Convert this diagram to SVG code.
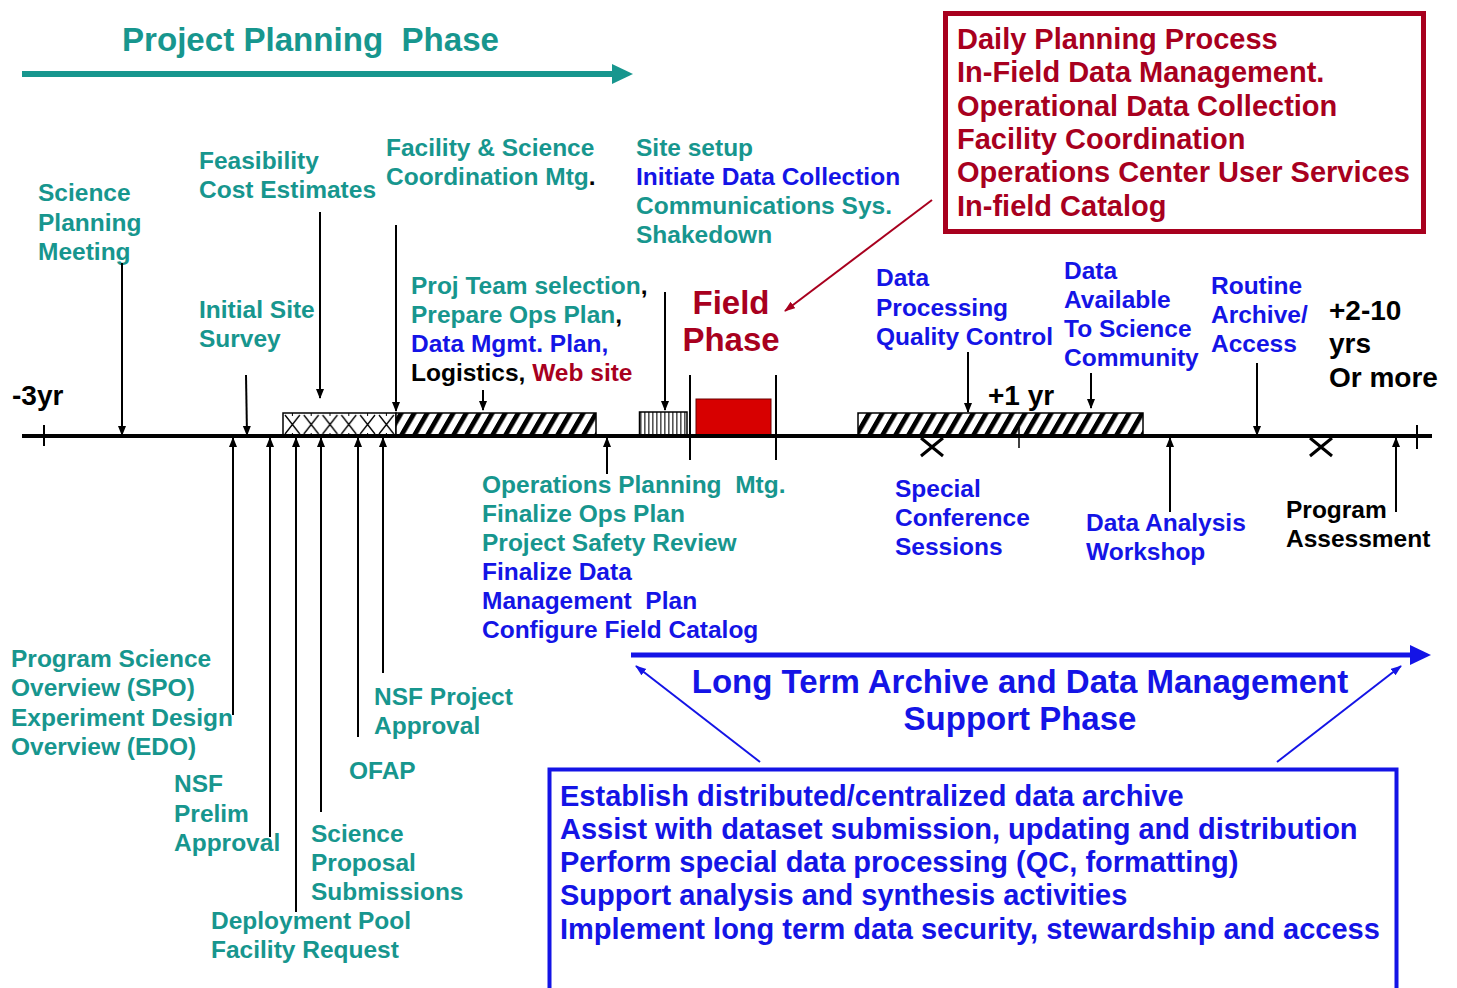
<svg xmlns="http://www.w3.org/2000/svg" width="1457" height="988" viewBox="0 0 1457 988">
  <style>
    text { font-family: "Liberation Sans", Arial, sans-serif; font-weight: bold; }
    .lbl { font-size: 24.5px; }
    .big { font-size: 29px; }
    .huge { font-size: 33px; }
    .teal { fill: #17968e; }
    .blue { fill: #1414e6; }
    .red { fill: #a8001e; }
    .blk { fill: #000; }
    .ptr { stroke: #000; stroke-width: 2; fill: none; marker-end: url(#head); }
    .post { stroke: #000; stroke-width: 2; fill: none; }
  </style>
  <defs>
    <marker id="head" markerUnits="userSpaceOnUse" markerWidth="10" markerHeight="10" refX="9" refY="4" orient="auto">
      <path d="M0,0 L10,4 L0,8 z" fill="#000"/>
    </marker>
    <marker id="headRed" markerUnits="userSpaceOnUse" markerWidth="12" markerHeight="10" refX="10" refY="4" orient="auto">
      <path d="M0,0 L11,4 L0,8 z" fill="#a8001e"/>
    </marker>
    <marker id="headBlue" markerUnits="userSpaceOnUse" markerWidth="12" markerHeight="10" refX="10" refY="4" orient="auto">
      <path d="M0,0 L11,4 L0,8 z" fill="#1414e6"/>
    </marker>
    <pattern id="diag" patternUnits="userSpaceOnUse" width="13" height="23" patternTransform="skewX(-30)">
      <rect width="13" height="23" fill="#fff"/>
      <rect x="0" y="0" width="5.5" height="23" fill="#000"/>
    </pattern>
    <pattern id="cross" patternUnits="userSpaceOnUse" x="283" y="413" width="18.8" height="23">
      <rect width="18.8" height="23" fill="#fff"/>
      <path d="M2,2 L16.8,21 M16.8,2 L2,21" stroke="#000" stroke-width="1.3"/>
      <path d="M9.4,0 v3 M9.4,20 v3" stroke="#000" stroke-width="1"/>
    </pattern>
    <pattern id="vstripe" patternUnits="userSpaceOnUse" x="639" y="412" width="4" height="23">
      <rect width="4" height="23" fill="#fff"/>
      <rect x="1" width="1.6" height="23" fill="#555"/>
    </pattern>
  </defs>

  <!-- project planning phase banner -->
  <g id="planning-phase">
    <text class="teal" x="122" y="51" font-size="34" textLength="377" lengthAdjust="spacingAndGlyphs">Project Planning&#160; Phase</text>
    <rect x="22" y="71" width="592" height="6" fill="#17968e"/>
    <polygon points="612,64 633,74 612,84" fill="#17968e"/>
  </g>

  <!-- field phase activities box -->
  <g id="field-activities">
    <rect x="945.5" y="13.5" width="478" height="218" fill="#fff" stroke="#a8001e" stroke-width="5"/>
    <text class="big red">
      <tspan x="957" y="49">Daily Planning Process</tspan>
      <tspan x="957" y="82">In-Field Data Management.</tspan>
      <tspan x="957" y="116">Operational Data Collection</tspan>
      <tspan x="957" y="149">Facility Coordination</tspan>
      <tspan x="957" y="182">Operations Center User Services</tspan>
      <tspan x="957" y="216">In-field Catalog</tspan>
    </text>
  </g>

  <!-- labels above the timeline -->
  <g id="science-planning-meeting">
    <text class="lbl teal"><tspan x="38" y="201">Science</tspan><tspan x="38" y="231">Planning</tspan><tspan x="38" y="260">Meeting</tspan></text>
  </g>
  <g id="feasibility">
    <text class="lbl teal"><tspan x="199" y="169">Feasibility</tspan><tspan x="199" y="198">Cost Estimates</tspan></text>
  </g>
  <g id="coordination-mtg">
    <text class="lbl teal"><tspan x="386" y="156">Facility &amp; Science</tspan><tspan x="386" y="185">Coordination Mtg<tspan class="blk">.</tspan></tspan></text>
  </g>
  <g id="site-setup">
    <text class="lbl">
      <tspan class="teal" x="636" y="156">Site setup</tspan>
      <tspan class="blue" x="636" y="185">Initiate Data Collection</tspan>
      <tspan class="teal" x="636" y="214">Communications Sys.</tspan>
      <tspan class="teal" x="636" y="243">Shakedown</tspan>
    </text>
  </g>
  <g id="initial-site-survey">
    <text class="lbl teal"><tspan x="199" y="318">Initial Site</tspan><tspan x="199" y="347">Survey</tspan></text>
  </g>
  <g id="team-selection">
    <text class="lbl">
      <tspan x="411" y="294"><tspan class="teal">Proj Team selection</tspan><tspan class="blk">,</tspan></tspan>
      <tspan x="411" y="323"><tspan class="teal">Prepare Ops Plan</tspan><tspan class="blk">,</tspan></tspan>
      <tspan class="blue" x="411" y="352">Data Mgmt. Plan,</tspan>
      <tspan x="411" y="381"><tspan class="blk">Logistics, </tspan><tspan class="red">Web site</tspan></tspan>
    </text>
  </g>
  <g id="field-phase">
    <text class="huge red" text-anchor="middle"><tspan x="731" y="314">Field</tspan><tspan x="731" y="351">Phase</tspan></text>
  </g>
  <g id="data-processing">
    <text class="lbl blue"><tspan x="876" y="286">Data</tspan><tspan x="876" y="316">Processing</tspan><tspan x="876" y="345">Quality Control</tspan></text>
  </g>
  <g id="data-available">
    <text class="lbl blue"><tspan x="1064" y="279">Data</tspan><tspan x="1064" y="308">Available</tspan><tspan x="1064" y="337">To Science</tspan><tspan x="1064" y="366">Community</tspan></text>
  </g>
  <g id="routine-archive">
    <text class="lbl blue"><tspan x="1211" y="294">Routine</tspan><tspan x="1211" y="323">Archive/</tspan><tspan x="1211" y="352">Access</tspan></text>
  </g>
  <g id="long-term">
    <text class="blk" font-size="28"><tspan x="1329" y="320">+2-10</tspan><tspan x="1329" y="353">yrs</tspan><tspan x="1329" y="387">Or more</tspan></text>
  </g>
  <g id="minus-3yr">
    <text class="blk" font-size="28" x="12" y="405">-3yr</text>
  </g>
  <g id="plus-1yr">
    <text class="blk" font-size="28" x="988" y="405">+1 yr</text>
  </g>

  <!-- timeline bars -->
  <g id="bar-proposal">
    <rect x="283" y="413" width="113" height="23" fill="url(#cross)" stroke="#000" stroke-width="1.5"/>
  </g>
  <g id="bar-preparation">
    <rect x="396" y="413" width="200" height="23" fill="url(#diag)" stroke="#000" stroke-width="1.5"/>
  </g>
  <g id="bar-setup">
    <rect x="639.5" y="412" width="47.5" height="23" fill="url(#vstripe)" stroke="#000" stroke-width="1.5"/>
  </g>
  <g id="bar-field">
    <rect x="696" y="399" width="75" height="37" fill="#d70000" stroke="#6a0000" stroke-width="1"/>
    <line class="post" x1="690" y1="375" x2="690" y2="460"/>
    <line class="post" x1="776" y1="375" x2="776" y2="460"/>
  </g>
  <g id="bar-processing">
    <rect x="858" y="413" width="285" height="23" fill="url(#diag)" stroke="#000" stroke-width="1.5"/>
  </g>

  <!-- labels below the timeline -->
  <g id="ops-planning">
    <text class="lbl">
      <tspan class="teal" x="482" y="493">Operations Planning&#160; Mtg.</tspan>
      <tspan class="teal" x="482" y="522">Finalize Ops Plan</tspan>
      <tspan class="teal" x="482" y="551">Project Safety Review</tspan>
      <tspan class="blue" x="482" y="580">Finalize Data</tspan>
      <tspan class="blue" x="482" y="609">Management&#160; Plan</tspan>
      <tspan class="blue" x="482" y="638">Configure Field Catalog</tspan>
    </text>
  </g>
  <g id="special-sessions">
    <text class="lbl blue"><tspan x="895" y="497">Special</tspan><tspan x="895" y="526">Conference</tspan><tspan x="895" y="555">Sessions</tspan></text>
  </g>
  <g id="analysis-workshop">
    <text class="lbl blue"><tspan x="1086" y="531">Data Analysis</tspan><tspan x="1086" y="560">Workshop</tspan></text>
  </g>
  <g id="program-assessment">
    <text class="lbl blk"><tspan x="1286" y="518">Program</tspan><tspan x="1286" y="547">Assessment</tspan></text>
  </g>
  <g id="spo-edo">
    <text class="lbl teal"><tspan x="11" y="667">Program Science</tspan><tspan x="11" y="696">Overview (SPO)</tspan><tspan x="11" y="726">Experiment Design</tspan><tspan x="11" y="755">Overview (EDO)</tspan></text>
  </g>
  <g id="nsf-project-approval">
    <text class="lbl teal"><tspan x="374" y="705">NSF Project</tspan><tspan x="374" y="734">Approval</tspan></text>
  </g>
  <g id="ofap">
    <text class="lbl teal" x="349" y="779">OFAP</text>
  </g>
  <g id="nsf-prelim">
    <text class="lbl teal"><tspan x="174" y="792">NSF</tspan><tspan x="174" y="822">Prelim</tspan><tspan x="174" y="851">Approval</tspan></text>
  </g>
  <g id="science-proposals">
    <text class="lbl teal"><tspan x="311" y="842">Science</tspan><tspan x="311" y="871">Proposal</tspan><tspan x="311" y="900">Submissions</tspan></text>
  </g>
  <g id="deployment-pool">
    <text class="lbl teal"><tspan x="211" y="929">Deployment Pool</tspan><tspan x="211" y="958">Facility Request</tspan></text>
  </g>

  <!-- archive support phase -->
  <g id="archive-phase">
    <rect x="631" y="652.5" width="781" height="5" fill="#1414e6"/>
    <polygon points="1410,645 1431,655 1410,665" fill="#1414e6"/>
    <text class="huge blue" text-anchor="middle"><tspan x="1020" y="693">Long Term Archive and Data Management</tspan><tspan x="1020" y="730">Support Phase</tspan></text>
  </g>
  <g id="archive-tasks">
    <path d="M549.5,992 V769.5 H1396.5 V992" fill="#fff" stroke="#1414e6" stroke-width="4"/>
    <text class="big blue">
      <tspan x="560" y="806">Establish distributed/centralized data archive</tspan>
      <tspan x="560" y="839">Assist with dataset submission, updating and distribution</tspan>
      <tspan x="560" y="872">Perform special data processing (QC, formatting)</tspan>
      <tspan x="560" y="905">Support analysis and synthesis activities</tspan>
      <tspan x="560" y="939">Implement long term data security, stewardship and access</tspan>
    </text>
  </g>

  <!-- timeline axis and connectors -->
  <g id="connectors">
    <line x1="22" y1="436" x2="1432" y2="436" stroke="#000" stroke-width="4"/>
    <line x1="44" y1="425" x2="44" y2="446" stroke="#000" stroke-width="2"/>
    <line x1="1019" y1="427" x2="1019" y2="448" stroke="#000" stroke-width="1.5"/>
    <line x1="1417" y1="425" x2="1417" y2="449" stroke="#000" stroke-width="2"/>
    <path d="M921,438 L943,456 M943,438 L921,456" stroke="#000" stroke-width="3"/>
    <path d="M1310,438 L1332,456 M1332,438 L1310,456" stroke="#000" stroke-width="3"/>

    <!-- pointers from above -->
    <line class="ptr" x1="122" y1="263" x2="122" y2="435"/>
    <line class="ptr" x1="246" y1="375" x2="247" y2="435"/>
    <line class="ptr" x1="320" y1="212" x2="320" y2="398"/>
    <line class="ptr" x1="396" y1="225" x2="396" y2="411"/>
    <line class="ptr" x1="483" y1="390" x2="483" y2="410"/>
    <line class="ptr" x1="665" y1="292" x2="665" y2="410"/>
    <line class="ptr" x1="968" y1="352" x2="968" y2="412"/>
    <line class="ptr" x1="1091" y1="373" x2="1091" y2="408"/>
    <line class="ptr" x1="1257" y1="363" x2="1257" y2="435"/>

    <!-- pointers from below -->
    <line class="ptr" x1="233" y1="715" x2="233" y2="438"/>
    <line class="ptr" x1="270" y1="837" x2="270" y2="438"/>
    <line class="ptr" x1="296" y1="912" x2="296" y2="438"/>
    <line class="ptr" x1="321" y1="812" x2="321" y2="438"/>
    <line class="ptr" x1="358" y1="737" x2="358" y2="438"/>
    <line class="ptr" x1="383" y1="673" x2="383" y2="438"/>
    <line class="ptr" x1="607" y1="474" x2="607" y2="438"/>
    <line class="ptr" x1="1170" y1="512" x2="1170" y2="438"/>
    <line class="ptr" x1="1396" y1="512" x2="1396" y2="438"/>

    <!-- phase links -->
    <line x1="932" y1="200" x2="785" y2="311" stroke="#a8001e" stroke-width="2" marker-end="url(#headRed)"/>
    <line x1="760" y1="762" x2="636" y2="666" stroke="#1414e6" stroke-width="2" marker-end="url(#headBlue)"/>
    <line x1="1277" y1="762" x2="1401" y2="666" stroke="#1414e6" stroke-width="2" marker-end="url(#headBlue)"/>
  </g>
</svg>
